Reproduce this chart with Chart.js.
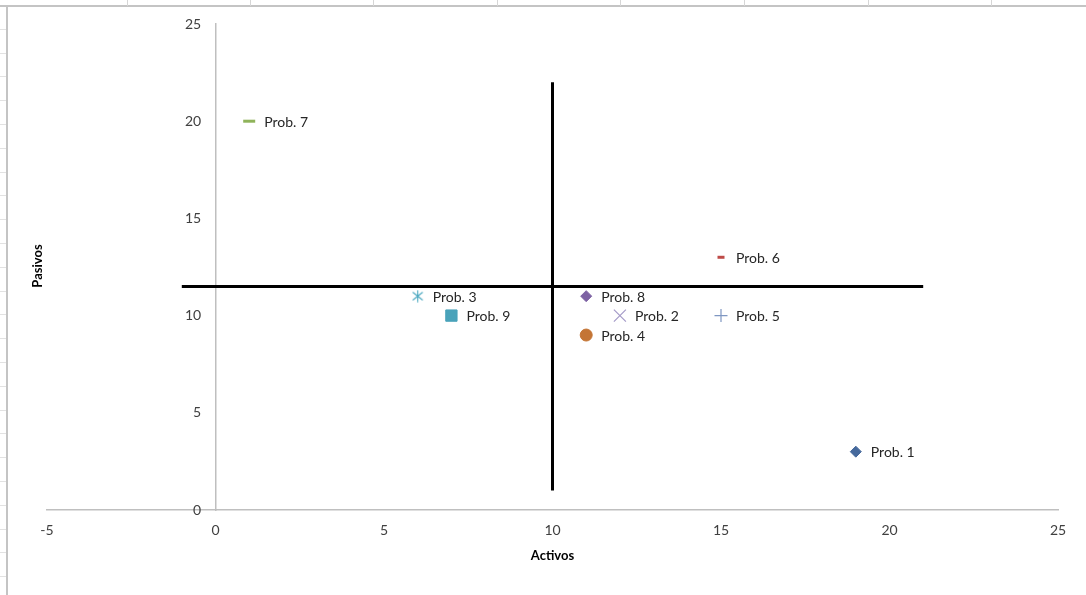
<!DOCTYPE html>
<html><head><meta charset="utf-8">
<script src="https://cdn.jsdelivr.net/npm/chart.js@4.4.1/dist/chart.umd.min.js"></script>
<style>
html,body{margin:0;padding:0;background:#fff;}
#wrap{position:relative;width:1086px;height:595px;overflow:hidden;background:#fff;}
.cell{position:absolute;top:0;height:6px;width:1px;background:#d6d6d6;}
#topline{position:absolute;left:0;top:5px;width:1086px;height:2px;background:#c4c4c4;}
#leftline{position:absolute;left:6px;top:6px;width:2px;height:589px;background:#c4c4c4;}
#rows{position:absolute;left:0;top:6px;width:6px;height:589px;
  background:repeating-linear-gradient(to bottom,transparent 0,transparent 22.8px,#e2e2e2 22.8px,#e2e2e2 23.8px);}
#c{position:absolute;left:0;top:0;}
</style></head>
<body><div id="wrap">
<div id="topline"></div><div id="leftline"></div><div id="rows"></div>
<canvas id="c" width="1086" height="595"></canvas>
</div>
<script>
// ---- data ----
const problemas = ['Prob. 1','Prob. 2','Prob. 3','Prob. 4','Prob. 5','Prob. 6','Prob. 7','Prob. 8','Prob. 9'];
const activos   = [19, 12, 6, 11, 15, 15, 1, 11, 7];
const pasivos   = [3, 10, 11, 9, 10, 13, 20, 11, 10];
const lineaVertX = [10, 10];
const lineaVertY = [1, 22];
const lineaHorX  = [-1, 21];
const lineaHorY  = [11.5, 11.5];
const xTicks = [-5, 0, 5, 10, 15, 20, 25];
const yTicks = [0, 5, 10, 15, 20, 25];

// ---- cell dividers (decoration) ----
[127, 250, 373, 497, 620, 744, 868, 991].forEach(x => {
  const d = document.createElement('div'); d.className = 'cell'; d.style.left = x + 'px';
  document.getElementById('wrap').appendChild(d);
});

function makeStar(color) {
  const c = document.createElement('canvas'); c.width = 13; c.height = 13;
  const g = c.getContext('2d'); g.strokeStyle = color; g.lineWidth = 1.1;
  g.beginPath();
  g.moveTo(6.5, 0.5); g.lineTo(6.5, 12.5);
  g.moveTo(1.5, 2.5); g.lineTo(11.5, 10.5);
  g.moveTo(11.5, 2.5); g.lineTo(1.5, 10.5);
  g.stroke();
  return c;
}

const markerStyles = [
  {pointStyle: 'rectRot', radius: 5.5, color: '#46699c', border: 1, fill: true},
  {pointStyle: 'crossRot', radius: 8.5, color: '#a59bc8', border: 1.2, fill: false},
  {pointStyle: makeStar('#4aa8c0'), radius: 7, color: '#4aa8c0', border: 1, fill: false},
  {pointStyle: 'circle', radius: 6, color: '#c47535', border: 1, fill: true},
  {pointStyle: 'cross', radius: 6.5, color: '#7f97c2', border: 1.2, fill: false},
  {pointStyle: 'line', radius: 3.5, color: '#be4b48', border: 3, fill: false},
  {pointStyle: 'line', radius: 6, color: '#8fb35a', border: 3, fill: false},
  {pointStyle: 'rectRot', radius: 5.5, color: '#7d62a3', border: 1, fill: true},
  {pointStyle: 'rect', radius: 8, color: '#4aa3ba', border: 1, fill: true}
];

function build() {
  const datasets = problemas.map((name, i) => {
    const s = markerStyles[i];
    return {
      label: name,
      data: [{x: activos[i], y: pasivos[i]}],
      pointStyle: s.pointStyle,
      pointRadius: s.radius,
      pointBorderWidth: s.border,
      pointBorderColor: s.color,
      pointBackgroundColor: s.fill ? s.color : 'rgba(0,0,0,0)',
      showLine: false,
      isProb: true
    };
  });
  datasets.push({
    label: 'vertical', data: lineaVertX.map((x, i) => ({x, y: lineaVertY[i]})),
    showLine: true, borderColor: '#000', borderWidth: 3, pointRadius: 0, borderCapStyle: 'butt'
  });
  datasets.push({
    label: 'horizontal', data: lineaHorX.map((x, i) => ({x, y: lineaHorY[i]})),
    showLine: true, borderColor: '#000', borderWidth: 3, pointRadius: 0, borderCapStyle: 'butt'
  });

  const labelPlugin = {
    id: 'probLabels',
    afterDatasetsDraw(chart) {
      const ctx = chart.ctx, ca = chart.chartArea;
      ctx.save();
      ctx.font = '14px Lato, "Open Sans", sans-serif';
      ctx.fillStyle = '#262626';
      ctx.textBaseline = 'middle';
      ctx.textAlign = 'left';
      chart.data.datasets.forEach((ds, i) => {
        if (!ds.isProb) return;
        const p = chart.getDatasetMeta(i).data[0];
        ctx.fillText(ds.label, p.x + 15, p.y + 1);
      });
      ctx.font = 'bold 13px Lato, "Open Sans", sans-serif';
      ctx.fillStyle = '#000';
      ctx.textAlign = 'center';
      ctx.fillText('Activos', (ca.left + ca.right) / 2, 556);
      ctx.translate(38, (ca.top + ca.bottom) / 2 - 1);
      ctx.rotate(-Math.PI / 2);
      ctx.fillText('Pasivos', 0, 0);
      ctx.restore();
    }
  };

  new Chart(document.getElementById('c'), {
    type: 'scatter',
    data: {datasets},
    options: {
      responsive: false,
      animation: false,
      layout: {padding: {left: 47, right: 28, top: 24, bottom: 85}},
      plugins: {legend: {display: false}, tooltip: {enabled: false}},
      scales: {
        x: {
          type: 'linear', position: {y: 0}, min: -5, max: 25,
          afterBuildTicks: s => { s.ticks = xTicks.map(v => ({value: v})); },
          grid: {display: false, drawTicks: false},
          border: {display: true, color: '#bfbfbf', width: 1.5},
          ticks: {padding: 12, color: '#404040', font: {family: 'Lato', size: 14}}
        },
        y: {
          type: 'linear', position: {x: 0}, min: 0, max: 25,
          afterBuildTicks: s => { s.ticks = yTicks.map(v => ({value: v})); },
          grid: {display: false, drawTicks: false},
          border: {display: true, color: '#bfbfbf', width: 1.5},
          ticks: {
            color: '#404040', font: {family: 'Lato', size: 14},
            // the library ignores padding for axes placed at a value, so add gap with spaces
            callback: v => v + '    '
          }
        }
      }
    },
    plugins: [labelPlugin]
  });
}

if (document.fonts && document.fonts.load) {
  Promise.all([document.fonts.load('14px Lato'), document.fonts.load('bold 13px Lato')])
    .then(build, build);
} else { build(); }
</script>
</body></html>
